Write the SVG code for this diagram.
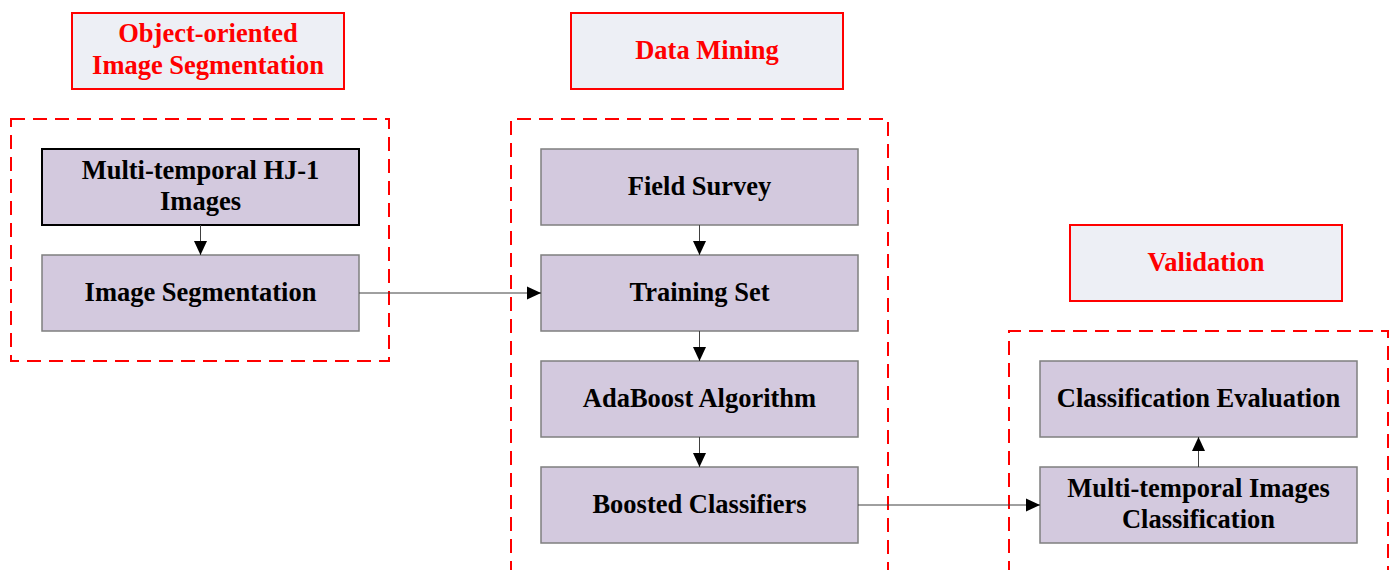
<svg xmlns="http://www.w3.org/2000/svg" width="1391" height="570" viewBox="0 0 1391 570">
  <defs>
    <marker id="arrow" markerWidth="14" markerHeight="14" refX="14" refY="7" orient="auto" markerUnits="userSpaceOnUse">
      <path d="M0,0.5 L14,7 L0,13.5 Z" fill="#000"/>
    </marker>
    <style>
      .title rect { fill: #EDEFF5; stroke: #FF0000; stroke-width: 2; }
      .title text { fill: #FF0000; }
      .group { fill: none; stroke: #FF0000; stroke-width: 2; stroke-dasharray: 14 8; }
      .node rect { fill: #D3C9DE; stroke: #7F7F7F; stroke-width: 1.5; }
      .node.dark rect { stroke: #000; stroke-width: 2; }
      text { font-family: "Liberation Serif", "Times New Roman", serif; font-weight: bold; font-size: 26.5px; text-anchor: middle; fill: #000; }
      .conn line { stroke: #404040; stroke-width: 1; marker-end: url(#arrow); }
    </style>
  </defs>
  <rect width="1391" height="570" fill="#fff"/>

  <!-- stage titles -->
  <g id="title-segmentation" class="title">
    <rect x="72" y="13" width="272" height="76"/>
    <text x="208" y="42">Object-oriented</text>
    <text x="208" y="74">Image Segmentation</text>
  </g>
  <g id="title-mining" class="title">
    <rect x="571" y="13" width="272" height="76"/>
    <text x="707" y="59">Data Mining</text>
  </g>
  <g id="title-validation" class="title">
    <rect x="1070" y="225" width="272" height="76"/>
    <text x="1206" y="271">Validation</text>
  </g>

  <!-- dashed stage groups -->
  <g id="groups">
    <rect class="group" x="11" y="119" width="378" height="242"/>
    <path class="group" d="M511,575 L511,119 L888,119 L888,575"/>
    <path class="group" d="M1009,575 L1009,331 L1388,331 L1388,575"/>
  </g>

  <!-- nodes -->
  <g id="node-hj1" class="node dark">
    <rect x="42" y="149" width="317" height="76"/>
    <text x="200.5" y="179">Multi-temporal HJ-1</text>
    <text x="200.5" y="210">Images</text>
  </g>
  <g id="node-segmentation" class="node">
    <rect x="42" y="255" width="317" height="76"/>
    <text x="200.5" y="301">Image Segmentation</text>
  </g>
  <g id="node-field" class="node">
    <rect x="541" y="149" width="317" height="76"/>
    <text x="699.5" y="195">Field Survey</text>
  </g>
  <g id="node-training" class="node">
    <rect x="541" y="255" width="317" height="76"/>
    <text x="699.5" y="301">Training Set</text>
  </g>
  <g id="node-adaboost" class="node">
    <rect x="541" y="361" width="317" height="76"/>
    <text x="699.5" y="407">AdaBoost Algorithm</text>
  </g>
  <g id="node-boosted" class="node">
    <rect x="541" y="467" width="317" height="76"/>
    <text x="699.5" y="513">Boosted Classifiers</text>
  </g>
  <g id="node-evaluation" class="node">
    <rect x="1040" y="361" width="317" height="76"/>
    <text x="1198.5" y="407">Classification Evaluation</text>
  </g>
  <g id="node-classification" class="node">
    <rect x="1040" y="467" width="317" height="76"/>
    <text x="1198.5" y="497">Multi-temporal Images</text>
    <text x="1198.5" y="528">Classification</text>
  </g>

  <!-- connectors -->
  <g id="connectors" class="conn">
    <line x1="200.5" y1="225" x2="200.5" y2="255"/>
    <line x1="359" y1="293" x2="541" y2="293"/>
    <line x1="699.5" y1="225" x2="699.5" y2="255"/>
    <line x1="699.5" y1="331" x2="699.5" y2="361"/>
    <line x1="699.5" y1="437" x2="699.5" y2="467"/>
    <line x1="858" y1="505" x2="1040" y2="505"/>
    <line x1="1198.5" y1="467" x2="1198.5" y2="437"/>
  </g>
</svg>
